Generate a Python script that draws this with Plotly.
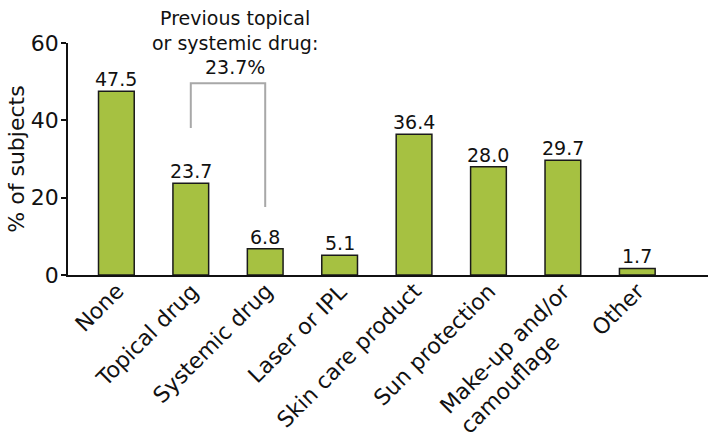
import plotly.graph_objects as go

categories = ["None", "Topical drug", "Systemic drug", "Laser or IPL",
              "Skin care product", "Sun protection",
              "Make-up and/or<br>camouflage", "Other"]
values = [47.5, 23.7, 6.8, 5.1, 36.4, 28.0, 29.7, 1.7]
value_labels = ["47.5", "23.7", "6.8", "5.1", "36.4", "28.0", "29.7", "1.7"]
y_ticks = [0, 20, 40, 60]

# bracket joining "Topical drug" and "Systemic drug"
bracket_cats = [1, 2]
bracket_top = 49.6
bracket_leg_ends = [38.0, 17.6]
bracket_text = "Previous topical<br>or systemic drug:<br>23.7%"

FONT = "DejaVu Sans"
GREEN = "#a6c141"
CAT_SIZE = 22
LINE_H = CAT_SIZE * 1.3

fig = go.Figure()
fig.add_trace(go.Bar(
    x=list(range(len(categories))), y=values,
    marker=dict(color=GREEN, line=dict(color="#1a1a1a", width=1.5)),
    width=0.48, hoverinfo="x+y",
))

# bar value labels
for i, (v, lab) in enumerate(zip(values, value_labels)):
    fig.add_annotation(x=i, y=v, xref="x", yref="y", text=lab, showarrow=False,
                       yanchor="bottom", yshift=-1,
                       font=dict(family=FONT, size=19, color="#111"))

# category labels (rotated, left-aligned for multi-line)
for i, cat in enumerate(categories):
    nlines = cat.count("<br>") + 1
    fig.add_annotation(x=i, y=0, xref="x", yref="y", text=cat, showarrow=False,
                       textangle=-45, xanchor="right", yanchor="top", align="left",
                       xshift=15 + 0.707 * LINE_H * (nlines - 1), yshift=-1,
                       font=dict(family=FONT, size=CAT_SIZE, color="#111"))

# bracket lines
x0, x1 = bracket_cats
fig.add_trace(go.Scatter(
    x=[x0, x0, x1, x1],
    y=[bracket_leg_ends[0], bracket_top, bracket_top, bracket_leg_ends[1]],
    mode="lines", line=dict(color="#a8a8a8", width=2),
    hoverinfo="skip", cliponaxis=False,
))

fig.add_annotation(
    x=(x0 + x1) / 2, y=bracket_top, xref="x", yref="y",
    text=bracket_text, showarrow=False, yanchor="bottom",
    xshift=7, yshift=3,
    font=dict(family=FONT, size=19, color="#111"), align="center",
)

fig.update_layout(
    width=709, height=446,
    margin=dict(l=68, r=1, t=43, b=171),
    paper_bgcolor="white", plot_bgcolor="white",
    showlegend=False,
    font=dict(family=FONT, color="#111"),
    xaxis=dict(
        range=[-0.65, 7.95], showticklabels=False, automargin=False,
        showline=True, linecolor="#111", linewidth=1.5,
        ticks="", showgrid=False, zeroline=False,
    ),
    yaxis=dict(
        range=[0, 60], tickvals=y_ticks, automargin=False,
        tickfont=dict(family=FONT, size=22, color="#111"),
        ticks="outside", ticklen=5, tickwidth=1.5, tickcolor="#111",
        ticklabelstandoff=-2,
        showline=True, linecolor="#111", linewidth=1.5,
        showgrid=False, zeroline=False,
        title=dict(text="% of subjects", font=dict(family=FONT, size=22, color="#111"), standoff=0),
    ),
)

fig.write_html("out.html", config={"displayModeBar": False},
               post_script="document.body.style.margin='0';document.body.style.overflow='hidden';")
